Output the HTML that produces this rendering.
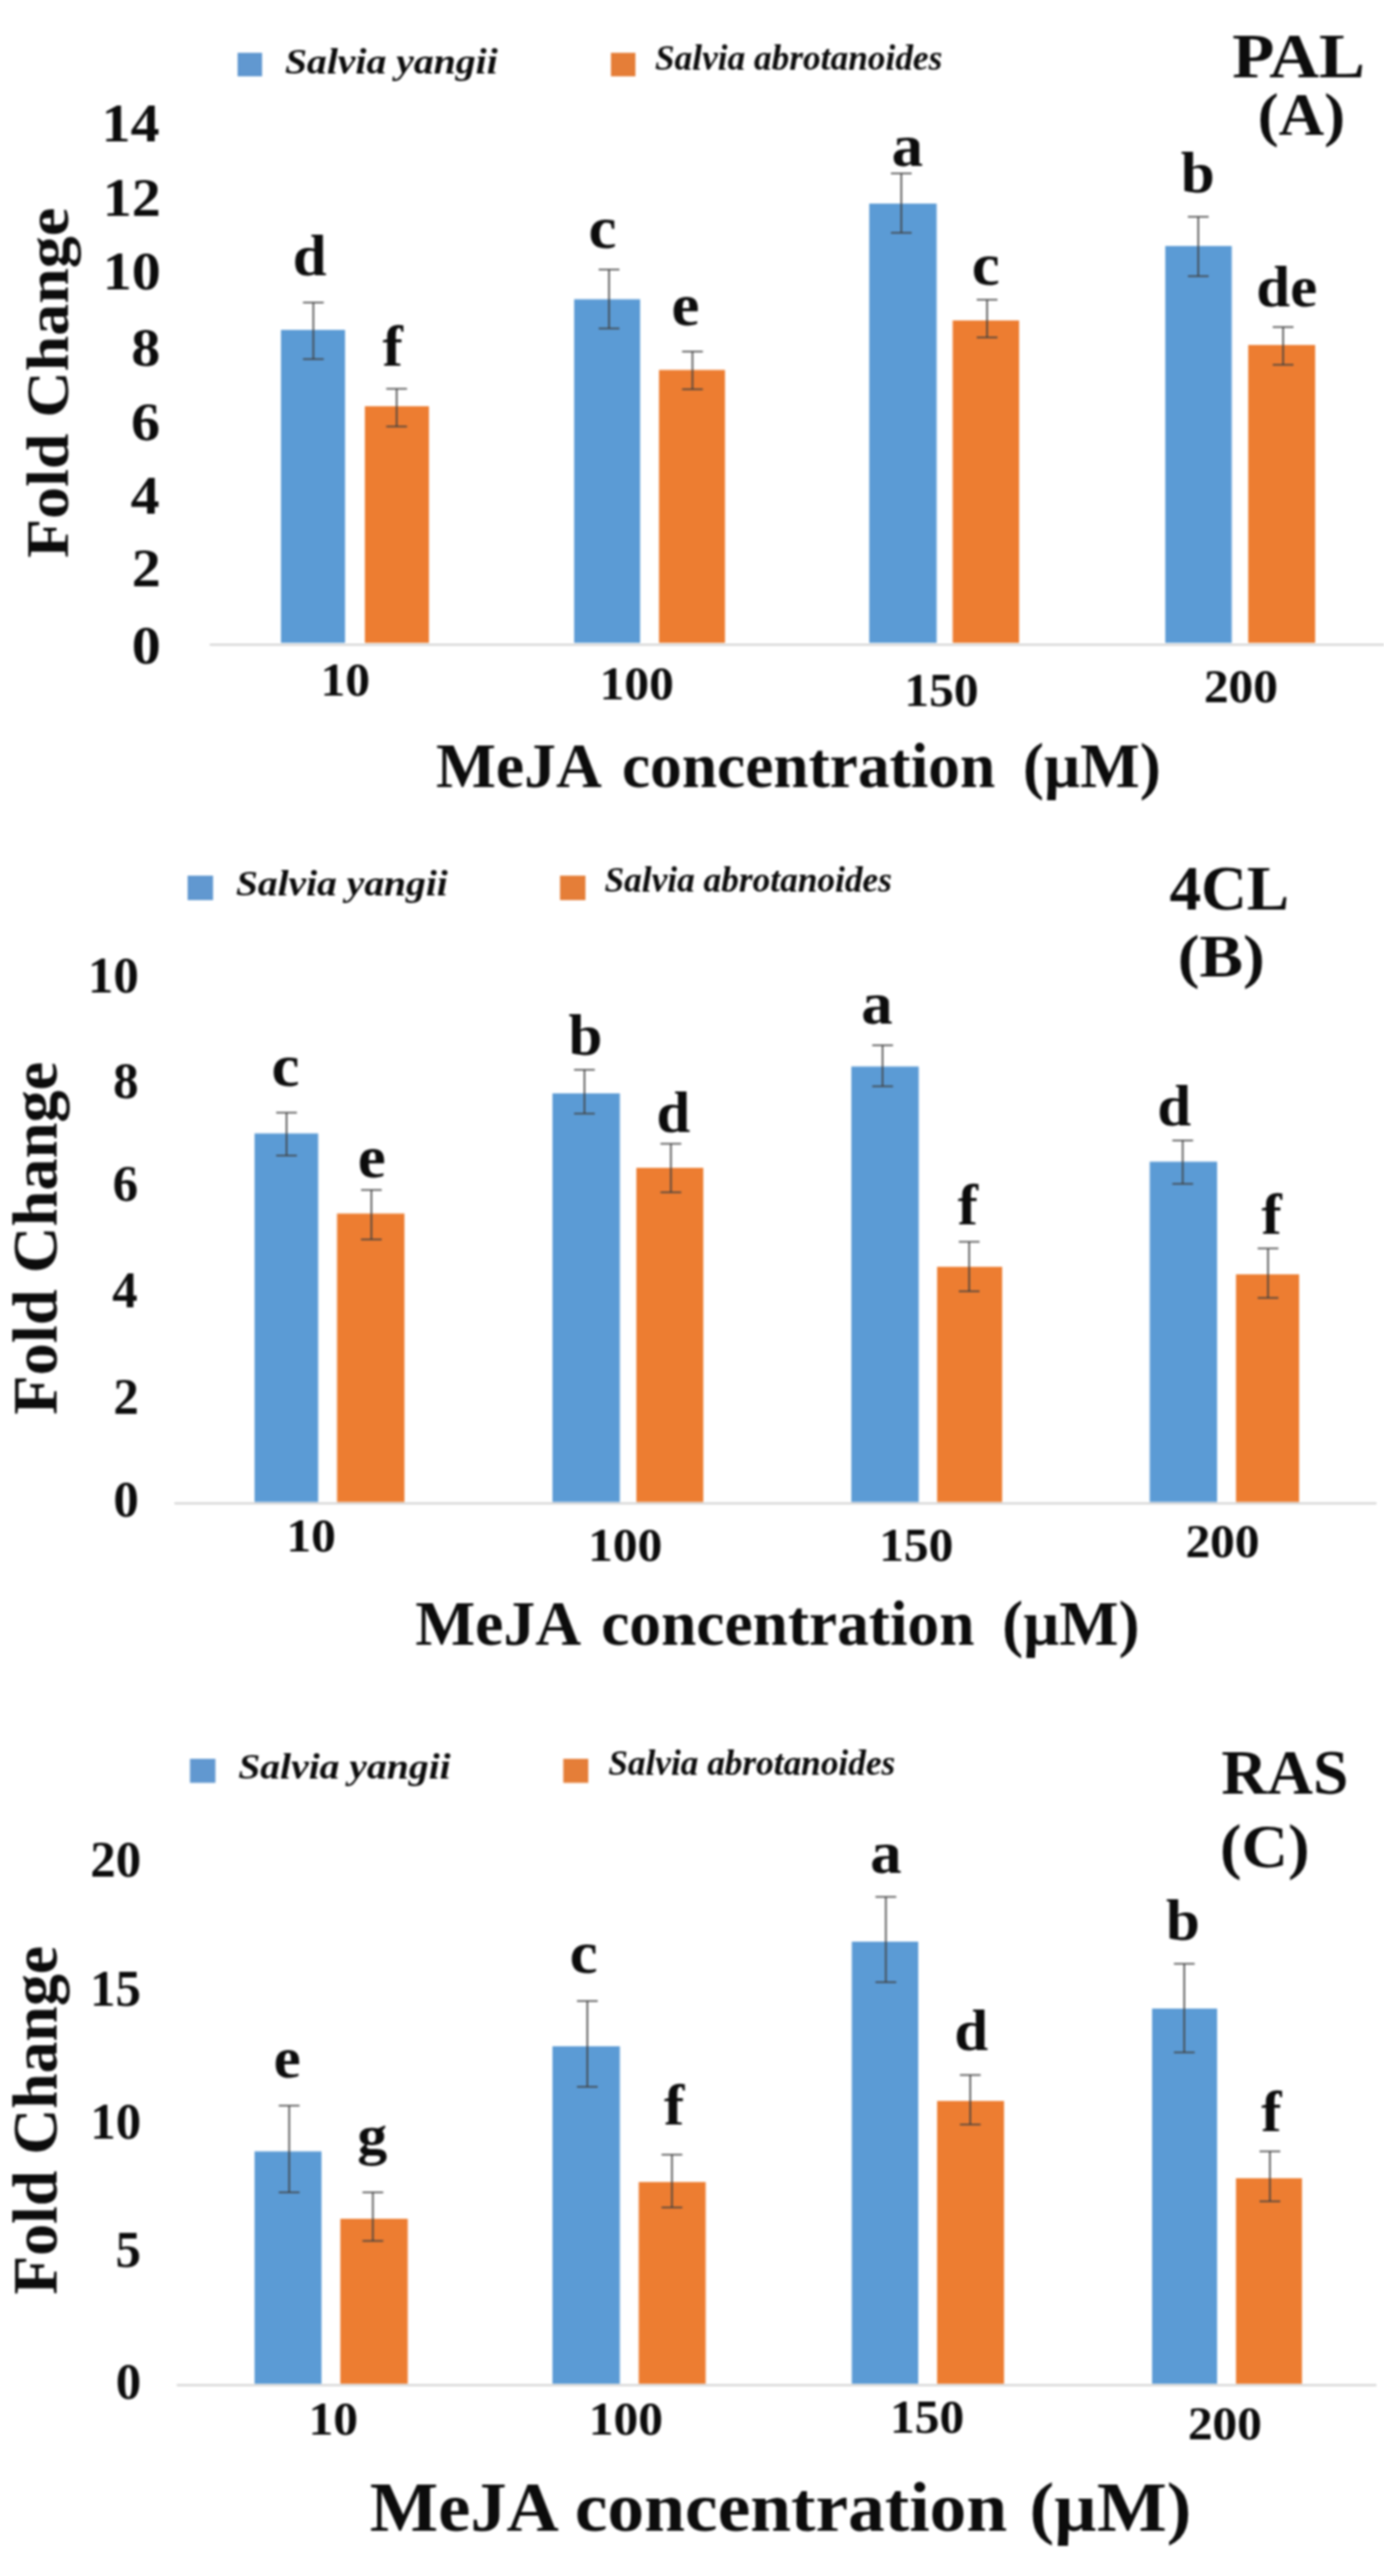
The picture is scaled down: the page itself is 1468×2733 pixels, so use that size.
<!DOCTYPE html>
<html><head><meta charset="utf-8"><title>Fold change charts</title>
<style>
html,body{margin:0;padding:0;background:#ffffff}
svg{display:block;filter:blur(0.8px)}
text{font-family:"Liberation Serif",serif;font-weight:bold;fill:#0c0c0c;white-space:pre}
</style></head><body>
<svg width="1468" height="2733" viewBox="0 0 1468 2733">
<rect width="1468" height="2733" fill="#ffffff"/>
<rect x="252.0" y="56.0" width="26.0" height="25.0" fill="#6198d0"/>
<rect x="648.0" y="56.0" width="26.0" height="25.0" fill="#e57e38"/>
<text transform="translate(302.16,77.50) scale(1.1236,1)" style="font-size:37.5px;font-style:italic;">Salvia yangii</text>
<text transform="translate(694.75,74.00) scale(0.9988,1)" style="font-size:37.5px;font-style:italic;">Salvia abrotanoides</text>
<text transform="translate(1306.90,81.50) scale(1.0774,1)" style="font-size:68.0px;">PAL</text>
<text transform="translate(1333.99,143.00) scale(1.0623,1)" style="font-size:63.0px;">(A)</text>
<text transform="translate(107.67,149.81) scale(1.0800,1)" style="font-size:57.0px;">14</text>
<text transform="translate(108.90,228.81) scale(1.0800,1)" style="font-size:57.0px;">12</text>
<text transform="translate(108.90,307.17) scale(1.0800,1)" style="font-size:57.0px;">10</text>
<text transform="translate(139.37,388.17) scale(1.0800,1)" style="font-size:57.0px;">8</text>
<text transform="translate(139.07,467.02) scale(1.0800,1)" style="font-size:57.0px;">6</text>
<text transform="translate(138.45,545.31) scale(1.0800,1)" style="font-size:57.0px;">4</text>
<text transform="translate(139.68,622.31) scale(1.0800,1)" style="font-size:57.0px;">2</text>
<text transform="translate(139.68,704.17) scale(1.0800,1)" style="font-size:57.0px;">0</text>
<text transform="translate(339.95,737.62) scale(1.0500,1)" style="font-size:50.0px;">10</text>
<text transform="translate(636.08,741.62) scale(1.0500,1)" style="font-size:50.0px;">100</text>
<text transform="translate(959.33,748.88) scale(1.0500,1)" style="font-size:50.0px;">150</text>
<text transform="translate(1276.88,745.38) scale(1.0500,1)" style="font-size:50.0px;">200</text>
<text transform="translate(462.49,834.50) scale(0.9908,1)" style="font-size:68.0px;">MeJA</text>
<text transform="translate(659.65,834.50) scale(0.9892,1)" style="font-size:68.0px;">concentration</text>
<text transform="translate(1084.99,834.50) scale(0.9839,1)" style="font-size:68.0px;">(µM)</text>
<text transform="translate(72.0,592.0) rotate(-90) scale(1.0608,1)" style="font-size:64.0px">Fold Change</text>
<rect x="222.5" y="682.9" width="1245.5" height="2.2" fill="#d4d4d4"/>
<rect x="298.0" y="350.0" width="68.0" height="332.0" fill="#5b9bd5"/>
<rect x="387.0" y="431.0" width="68.0" height="251.0" fill="#ed7d31"/>
<rect x="609.0" y="317.5" width="70.0" height="364.5" fill="#5b9bd5"/>
<rect x="699.0" y="392.5" width="70.0" height="289.5" fill="#ed7d31"/>
<rect x="922.0" y="216.0" width="71.5" height="466.0" fill="#5b9bd5"/>
<rect x="1010.5" y="340.0" width="70.5" height="342.0" fill="#ed7d31"/>
<rect x="1236.0" y="261.0" width="70.5" height="421.0" fill="#5b9bd5"/>
<rect x="1324.0" y="366.0" width="71.0" height="316.0" fill="#ed7d31"/>
<path d="M321.4 321.0H343.4M321.4 381.0H343.4M332.4 321.0V381.0" stroke="#404040" stroke-width="1.6" fill="none"/>
<path d="M409.7 412.5H431.7M409.7 452.5H431.7M420.7 412.5V452.5" stroke="#404040" stroke-width="1.6" fill="none"/>
<path d="M635.0 286.0H657.0M635.0 348.5H657.0M646.0 286.0V348.5" stroke="#404040" stroke-width="1.6" fill="none"/>
<path d="M723.5 373.0H745.5M723.5 413.0H745.5M734.5 373.0V413.0" stroke="#404040" stroke-width="1.6" fill="none"/>
<path d="M945.0 184.0H967.0M945.0 247.0H967.0M956.0 184.0V247.0" stroke="#404040" stroke-width="1.6" fill="none"/>
<path d="M1036.0 318.0H1058.0M1036.0 358.0H1058.0M1047.0 318.0V358.0" stroke="#404040" stroke-width="1.6" fill="none"/>
<path d="M1260.0 230.0H1282.0M1260.0 293.0H1282.0M1271.0 230.0V293.0" stroke="#404040" stroke-width="1.6" fill="none"/>
<path d="M1350.0 347.0H1372.0M1350.0 387.0H1372.0M1361.0 347.0V387.0" stroke="#404040" stroke-width="1.6" fill="none"/>
<text transform="translate(310.59,291.89) scale(1.0600,1)" style="font-size:61.0px;">d</text>
<text transform="translate(405.68,387.50) scale(1.0600,1)" style="font-size:61.0px;">f</text>
<text transform="translate(624.31,262.99) scale(1.0600,1)" style="font-size:63.0px;">c</text>
<text transform="translate(712.31,345.24) scale(1.0600,1)" style="font-size:63.0px;">e</text>
<text transform="translate(945.80,175.99) scale(1.0600,1)" style="font-size:63.0px;">a</text>
<text transform="translate(1030.81,301.99) scale(1.0600,1)" style="font-size:63.0px;">c</text>
<text transform="translate(1252.53,203.89) scale(1.0600,1)" style="font-size:61.0px;">b</text>
<text transform="translate(1332.44,325.39) scale(1.0600,1)" style="font-size:61.0px;">de</text>
<rect x="199.0" y="929.0" width="27.0" height="26.0" fill="#6198d0"/>
<rect x="594.0" y="929.0" width="27.0" height="26.0" fill="#e57e38"/>
<text transform="translate(250.16,950.00) scale(1.1186,1)" style="font-size:37.5px;font-style:italic;">Salvia yangii</text>
<text transform="translate(641.25,946.00) scale(0.9988,1)" style="font-size:37.5px;font-style:italic;">Salvia abrotanoides</text>
<text transform="translate(1240.49,964.50) scale(0.9884,1)" style="font-size:68.0px;">4CL</text>
<text transform="translate(1249.18,1036.00) scale(1.0818,1)" style="font-size:64.0px;">(B)</text>
<text transform="translate(93.16,1052.68) scale(1.0000,1)" style="font-size:54.0px;">10</text>
<text transform="translate(119.89,1164.68) scale(1.0000,1)" style="font-size:54.0px;">8</text>
<text transform="translate(119.62,1274.05) scale(1.0000,1)" style="font-size:54.0px;">6</text>
<text transform="translate(119.08,1387.32) scale(1.0000,1)" style="font-size:54.0px;">4</text>
<text transform="translate(120.16,1500.32) scale(1.0000,1)" style="font-size:54.0px;">2</text>
<text transform="translate(120.16,1609.18) scale(1.0000,1)" style="font-size:54.0px;">0</text>
<text transform="translate(303.70,1645.62) scale(1.0500,1)" style="font-size:50.0px;">10</text>
<text transform="translate(623.83,1655.88) scale(1.0500,1)" style="font-size:50.0px;">100</text>
<text transform="translate(932.58,1655.62) scale(1.0500,1)" style="font-size:50.0px;">150</text>
<text transform="translate(1257.38,1652.12) scale(1.0500,1)" style="font-size:50.0px;">200</text>
<text transform="translate(440.49,1745.00) scale(0.9908,1)" style="font-size:68.0px;">MeJA</text>
<text transform="translate(637.65,1745.00) scale(0.9892,1)" style="font-size:68.0px;">concentration</text>
<text transform="translate(1063.00,1745.00) scale(0.9804,1)" style="font-size:68.0px;">(µM)</text>
<text transform="translate(59.5,1501.0) rotate(-90) scale(1.0216,1)" style="font-size:67.0px">Fold Change</text>
<rect x="185.0" y="1593.9" width="1275.0" height="2.2" fill="#d4d4d4"/>
<rect x="270.0" y="1202.5" width="67.5" height="391.0" fill="#5b9bd5"/>
<rect x="357.5" y="1287.5" width="71.5" height="306.0" fill="#ed7d31"/>
<rect x="586.0" y="1160.0" width="71.5" height="433.5" fill="#5b9bd5"/>
<rect x="675.0" y="1239.0" width="71.0" height="354.5" fill="#ed7d31"/>
<rect x="903.0" y="1131.5" width="71.5" height="462.0" fill="#5b9bd5"/>
<rect x="994.0" y="1344.0" width="69.0" height="249.5" fill="#ed7d31"/>
<rect x="1219.5" y="1232.5" width="71.5" height="361.0" fill="#5b9bd5"/>
<rect x="1311.0" y="1352.0" width="67.0" height="241.5" fill="#ed7d31"/>
<path d="M292.9 1180.5H314.9M292.9 1226.0H314.9M303.9 1180.5V1226.0" stroke="#404040" stroke-width="1.6" fill="none"/>
<path d="M382.9 1262.5H404.9M382.9 1315.0H404.9M393.9 1262.5V1315.0" stroke="#404040" stroke-width="1.6" fill="none"/>
<path d="M608.9 1135.0H630.9M608.9 1181.5H630.9M619.9 1135.0V1181.5" stroke="#404040" stroke-width="1.6" fill="none"/>
<path d="M700.6 1213.5H722.6M700.6 1265.0H722.6M711.6 1213.5V1265.0" stroke="#404040" stroke-width="1.6" fill="none"/>
<path d="M925.2 1109.0H947.2M925.2 1152.5H947.2M936.2 1109.0V1152.5" stroke="#404040" stroke-width="1.6" fill="none"/>
<path d="M1017.0 1317.5H1039.0M1017.0 1370.0H1039.0M1028.0 1317.5V1370.0" stroke="#404040" stroke-width="1.6" fill="none"/>
<path d="M1243.5 1210.0H1265.5M1243.5 1256.0H1265.5M1254.5 1210.0V1256.0" stroke="#404040" stroke-width="1.6" fill="none"/>
<path d="M1334.0 1324.5H1356.0M1334.0 1377.0H1356.0M1345.0 1324.5V1377.0" stroke="#404040" stroke-width="1.6" fill="none"/>
<text transform="translate(288.06,1151.74) scale(1.0600,1)" style="font-size:63.0px;">c</text>
<text transform="translate(379.56,1249.24) scale(1.0600,1)" style="font-size:63.0px;">e</text>
<text transform="translate(603.03,1118.89) scale(1.0600,1)" style="font-size:61.0px;">b</text>
<text transform="translate(696.34,1201.14) scale(1.0600,1)" style="font-size:61.0px;">d</text>
<text transform="translate(913.55,1085.74) scale(1.0600,1)" style="font-size:63.0px;">a</text>
<text transform="translate(1015.68,1298.50) scale(1.0600,1)" style="font-size:61.0px;">f</text>
<text transform="translate(1227.59,1194.14) scale(1.0600,1)" style="font-size:61.0px;">d</text>
<text transform="translate(1337.93,1308.75) scale(1.0600,1)" style="font-size:61.0px;">f</text>
<rect x="201.5" y="1866.0" width="27.0" height="25.5" fill="#6198d0"/>
<rect x="597.5" y="1866.0" width="26.5" height="25.5" fill="#e57e38"/>
<text transform="translate(252.66,1886.50) scale(1.1211,1)" style="font-size:37.5px;font-style:italic;">Salvia yangii</text>
<text transform="translate(645.25,1882.50) scale(0.9971,1)" style="font-size:37.5px;font-style:italic;">Salvia abrotanoides</text>
<text transform="translate(1295.39,1902.50) scale(0.9905,1)" style="font-size:68.0px;">RAS</text>
<text transform="translate(1293.92,1980.50) scale(1.0533,1)" style="font-size:65.0px;">(C)</text>
<text transform="translate(95.66,1991.18) scale(1.0000,1)" style="font-size:54.0px;">20</text>
<text transform="translate(95.39,2127.55) scale(1.0000,1)" style="font-size:54.0px;">15</text>
<text transform="translate(95.66,2268.68) scale(1.0000,1)" style="font-size:54.0px;">10</text>
<text transform="translate(122.39,2405.41) scale(1.0000,1)" style="font-size:54.0px;">5</text>
<text transform="translate(122.66,2545.18) scale(1.0000,1)" style="font-size:54.0px;">0</text>
<text transform="translate(327.20,2582.62) scale(1.0500,1)" style="font-size:50.0px;">10</text>
<text transform="translate(624.58,2582.88) scale(1.0500,1)" style="font-size:50.0px;">100</text>
<text transform="translate(944.08,2581.12) scale(1.0500,1)" style="font-size:50.0px;">150</text>
<text transform="translate(1259.88,2588.12) scale(1.0500,1)" style="font-size:50.0px;">200</text>
<text transform="translate(392.35,2684.50) scale(1.0383,1)" style="font-size:74.0px;">MeJA</text>
<text transform="translate(609.77,2684.50) scale(1.0526,1)" style="font-size:74.0px;">concentration</text>
<text transform="translate(1091.96,2684.50) scale(1.0618,1)" style="font-size:74.0px;">(µM)</text>
<text transform="translate(59.5,2434.5) rotate(-90) scale(1.0092,1)" style="font-size:67.0px">Fold Change</text>
<rect x="187.5" y="2529.4" width="1272.5" height="2.2" fill="#d4d4d4"/>
<rect x="270.0" y="2282.5" width="71.0" height="246.5" fill="#5b9bd5"/>
<rect x="361.0" y="2354.0" width="71.5" height="175.0" fill="#ed7d31"/>
<rect x="586.0" y="2171.0" width="71.5" height="358.0" fill="#5b9bd5"/>
<rect x="677.5" y="2315.0" width="71.0" height="214.0" fill="#ed7d31"/>
<rect x="903.5" y="2060.0" width="70.5" height="469.0" fill="#5b9bd5"/>
<rect x="994.0" y="2229.0" width="71.0" height="300.0" fill="#ed7d31"/>
<rect x="1222.0" y="2131.0" width="69.0" height="398.0" fill="#5b9bd5"/>
<rect x="1311.0" y="2311.0" width="70.0" height="218.0" fill="#ed7d31"/>
<path d="M295.7 2234.0H317.7M295.7 2326.0H317.7M306.7 2234.0V2326.0" stroke="#404040" stroke-width="1.6" fill="none"/>
<path d="M384.5 2326.0H406.5M384.5 2377.5H406.5M395.5 2326.0V2377.5" stroke="#404040" stroke-width="1.6" fill="none"/>
<path d="M612.0 2123.0H634.0M612.0 2214.0H634.0M623.0 2123.0V2214.0" stroke="#404040" stroke-width="1.6" fill="none"/>
<path d="M701.7 2286.0H723.7M701.7 2342.0H723.7M712.7 2286.0V2342.0" stroke="#404040" stroke-width="1.6" fill="none"/>
<path d="M928.6 2012.5H950.6M928.6 2103.0H950.6M939.6 2012.5V2103.0" stroke="#404040" stroke-width="1.6" fill="none"/>
<path d="M1018.2 2201.5H1040.2M1018.2 2254.0H1040.2M1029.2 2201.5V2254.0" stroke="#404040" stroke-width="1.6" fill="none"/>
<path d="M1245.2 2083.5H1267.2M1245.2 2177.5H1267.2M1256.2 2083.5V2177.5" stroke="#404040" stroke-width="1.6" fill="none"/>
<path d="M1336.0 2282.5H1358.0M1336.0 2335.5H1358.0M1347.0 2282.5V2335.5" stroke="#404040" stroke-width="1.6" fill="none"/>
<text transform="translate(290.29,2204.03) scale(1.0600,1)" style="font-size:61.0px;">e</text>
<text transform="translate(379.12,2284.95) scale(1.0600,1)" style="font-size:60.0px;">g</text>
<text transform="translate(604.31,2093.24) scale(1.0600,1)" style="font-size:63.0px;">c</text>
<text transform="translate(704.18,2254.00) scale(1.0600,1)" style="font-size:61.0px;">f</text>
<text transform="translate(923.05,1986.74) scale(1.0600,1)" style="font-size:63.0px;">a</text>
<text transform="translate(1012.34,2174.64) scale(1.0600,1)" style="font-size:61.0px;">d</text>
<text transform="translate(1236.78,2057.89) scale(1.0600,1)" style="font-size:61.0px;">b</text>
<text transform="translate(1337.68,2260.75) scale(1.0600,1)" style="font-size:61.0px;">f</text>
</svg>
</body></html>
